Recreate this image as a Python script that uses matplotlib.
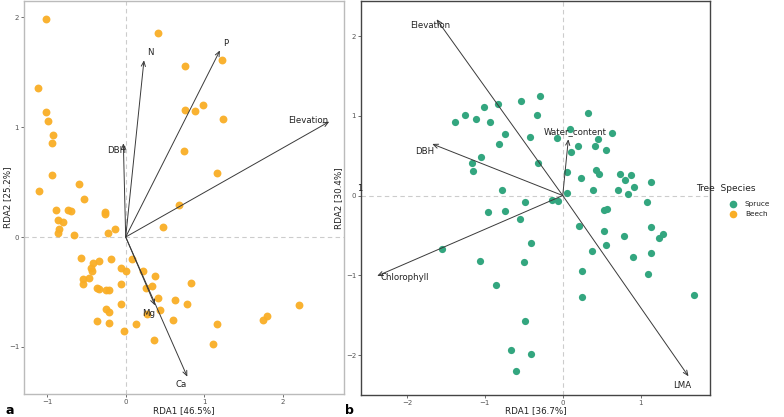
import numpy as np
import matplotlib
matplotlib.use("Agg")
import matplotlib.pyplot as plt

# --- Beech (panel a) site scores ---
beech_x = [-1.01, 0.415, 0.755, 1.227, -1.113, -1.015, -0.986, -0.93, -0.943, 0.752, 0.887, 0.989,
           1.243, 0.739, -0.935, -1.10, -0.595, -0.531, 1.159, 0.675,
           -0.888, -0.731, -0.693, -0.859, -0.803, -0.854, -0.866, -0.655, -0.27, -0.26, -0.229,
           -0.14, 0.471, -0.573, -0.42, -0.34, -0.183, -0.446, -0.433, -0.548, -0.467, -0.544,
           -0.369, -0.345, -0.247, -0.213, -0.064, 0.008, 0.076, -0.056, 0.22, 0.377, 0.331,
           0.262, 0.415, 0.628, 0.828, 0.777, 0.441, 0.267, -0.064, -0.255, -0.213, -0.362,
           -0.213, 0.127, -0.022, 0.603, 0.36, 1.112, 1.159, 2.208, 1.796, 1.749]
beech_y = [1.99, 1.86, 1.56, 1.61, 1.36, 1.14, 1.06, 0.93, 0.854, 1.155, 1.149, 1.206,
           1.076, 0.784, 0.565, 0.417, 0.486, 0.349, 0.58, 0.295,
           0.246, 0.246, 0.234, 0.152, 0.137, 0.070, 0.039, 0.015, 0.23, 0.21, 0.039,
           0.07, 0.091, -0.191, -0.24, -0.219, -0.203, -0.285, -0.31, -0.38, -0.377, -0.426,
           -0.465, -0.47, -0.486, -0.486, -0.285, -0.31, -0.203, -0.428, -0.31, -0.359, -0.444,
           -0.465, -0.556, -0.577, -0.419, -0.614, -0.662, -0.702, -0.611, -0.656, -0.681, -0.766,
           -0.781, -0.79, -0.854, -0.754, -0.942, -0.975, -0.796, -0.62, -0.72, -0.757]

# --- Beech environmental vectors ---
a_vars = ["N", "P", "DBH", "Elevation", "Mg", "Ca"]
a_vx = [0.233, 1.201, -0.03, 2.594, 0.373, 0.785]
a_vy = [1.61, 1.70, 0.854, 1.051, -0.623, -1.273]
a_lx = [0.31, 1.27, -0.12, 2.33, 0.297, 0.704]
a_ly = [1.68, 1.765, 0.787, 1.06, -0.696, -1.343]

# --- Spruce (panel b) site scores ---
spruce_x = [-0.292, -0.532, -0.828, -1.008, -1.26, -1.384, -1.11, -0.93, -0.334, 0.321, -0.738,
            -0.424, -0.819, 0.094, -0.077, 0.638, 0.45, 0.197, 0.419, 0.553, 0.103, -1.046,
            -1.162, -1.149, -0.313, 0.051, 0.231, 0.424, 0.47, 0.74, 0.882, 0.805, 0.916, 0.711,
            0.839, 0.393, 0.051, -0.78, -0.48, -0.141, -0.064, -0.964, -0.738, -0.553, -0.411,
            -1.555, -1.059, -0.497, -0.861, -0.488, -0.668, -0.411, -0.604, 0.21, 0.531, 0.57,
            0.527, 0.557, 0.377, 0.788, 0.904, 0.244, 0.252, 1.139, 1.087, 1.135, 1.285, 1.242,
            1.139, 1.092, 1.692]
spruce_y = [1.249, 1.186, 1.149, 1.116, 1.011, 0.919, 0.965, 0.919, 1.007, 1.036, 0.777,
            0.735, 0.647, 0.835, 0.727, 0.781, 0.706, 0.622, 0.622, 0.577, 0.547, 0.48,
            0.414, 0.305, 0.414, 0.292, 0.217, 0.326, 0.271, 0.271, 0.258, 0.192, 0.113, 0.07,
            0.025, 0.066, 0.029, 0.07, -0.084, -0.05, -0.063, -0.2, -0.188, -0.293, -0.594,
            -0.673, -0.824, -0.836, -1.125, -1.572, -1.936, -1.99, -2.195, -0.381, -0.18, -0.168,
            -0.439, -0.615, -0.698, -0.506, -0.765, -0.941, -1.275, 0.171, -0.084, -0.389, -0.481,
            -0.535, -0.72, -0.987, -1.246]

# --- Spruce environmental vectors ---
b_vars = ["Elevation", "DBH", "Water_content", "Chlorophyll", "LMA"]
b_vx = [-1.62, -1.676, 0.072, -2.383, 1.615]
b_vy = [2.21, 0.647, 0.706, -1.008, -2.266]
b_lx = [-1.706, -1.77, 0.158, -2.023, 1.533]
b_ly = [2.127, 0.555, 0.80, -1.028, -2.379]

orange = "#F9AE26"
green = "#33A67F"
arrow_col = "#3a3a3a"

fig = plt.figure(figsize=(7.84, 4.17), dpi=100)
ax1 = fig.add_axes([0.0306, 0.0552, 0.408, 0.9424])
ax2 = fig.add_axes([0.4605, 0.0528, 0.445, 0.945])


def style(ax, spine_col):
    ax.axhline(0, color="#cccccc", lw=0.8, ls=(0, (4, 3)), zorder=0)
    ax.axvline(0, color="#cccccc", lw=0.8, ls=(0, (4, 3)), zorder=0)
    for s in ax.spines.values():
        s.set_color(spine_col)
        s.set_linewidth(1.0)
    ax.tick_params(labelsize=5, colors="#555555", length=2, width=0.6, pad=1.5)


def arrows(ax, vx, vy, lx, ly, names):
    for x, y, tx, ty, n in zip(vx, vy, lx, ly, names):
        ax.annotate("", xy=(x, y), xytext=(0, 0),
                    arrowprops=dict(arrowstyle="->,head_length=0.35,head_width=0.15",
                                    color=arrow_col, lw=0.7, shrinkA=0, shrinkB=0), zorder=3)
        ax.text(tx, ty, n, fontsize=6.2, color="#222222", ha="center", va="center", zorder=4)


# panel a
ax1.scatter(beech_x, beech_y, s=32, color=orange, alpha=0.95, linewidths=0, zorder=2)
arrows(ax1, a_vx, a_vy, a_lx, a_ly, a_vars)
ax1.set_xlim(-1.296, 2.78)
ax1.set_ylim(-1.43, 2.15)
ax1.set_xticks([-1, 0, 1, 2])
ax1.set_yticks([-1, 0, 1, 2])
style(ax1, "#bbbbbb")
ax1.set_xlabel("RDA1 [46.5%]", fontsize=6.3, color="#222222")
ax1.set_ylabel("RDA2 [25.2%]", fontsize=6.3, color="#222222")
ax1.xaxis.set_label_coords(0.5, -0.031)
ax1.yaxis.set_label_coords(-0.036, 0.5)

# panel b
ax2.scatter(spruce_x, spruce_y, s=27, color=green, linewidths=0, zorder=2)
arrows(ax2, b_vx, b_vy, b_lx, b_ly, b_vars)
ax2.set_xlim(-2.59, 1.89)
ax2.set_ylim(-2.50, 2.44)
ax2.set_xticks([-2, -1, 0, 1])
ax2.set_yticks([-2, -1, 0, 1, 2])
style(ax2, "#444444")
ax2.set_xlabel("RDA1 [36.7%]", fontsize=6.3, color="#222222")
ax2.set_ylabel("RDA2 [30.4%]", fontsize=6.3, color="#222222")
ax2.xaxis.set_label_coords(0.5, -0.028)
ax2.yaxis.set_label_coords(-0.050, 0.5)
fig.text(0.459, 0.548, "1", fontsize=6, color="#222222", ha="center", va="center")

# panel letters
fig.text(0.007, 0.016, "a", fontsize=9, fontweight="bold", ha="left", va="center")
fig.text(0.440, 0.016, "b", fontsize=9, fontweight="bold", ha="left", va="center")

# legend
fig.text(0.926, 0.547, "Tree  Species", fontsize=6.5, color="#222222", ha="center", va="center")
fig.lines.append(plt.Line2D([0.9345], [0.511], transform=fig.transFigure, marker="o",
                            ms=5.5, color=green, mec="none"))
fig.lines.append(plt.Line2D([0.9345], [0.486], transform=fig.transFigure, marker="o",
                            ms=5.5, color=orange, mec="none"))
fig.text(0.950, 0.511, "Spruce", fontsize=5.3, color="#222222", ha="left", va="center")
fig.text(0.950, 0.486, "Beech", fontsize=5.3, color="#222222", ha="left", va="center")

fig.savefig("out.png", dpi=100, facecolor="white")
